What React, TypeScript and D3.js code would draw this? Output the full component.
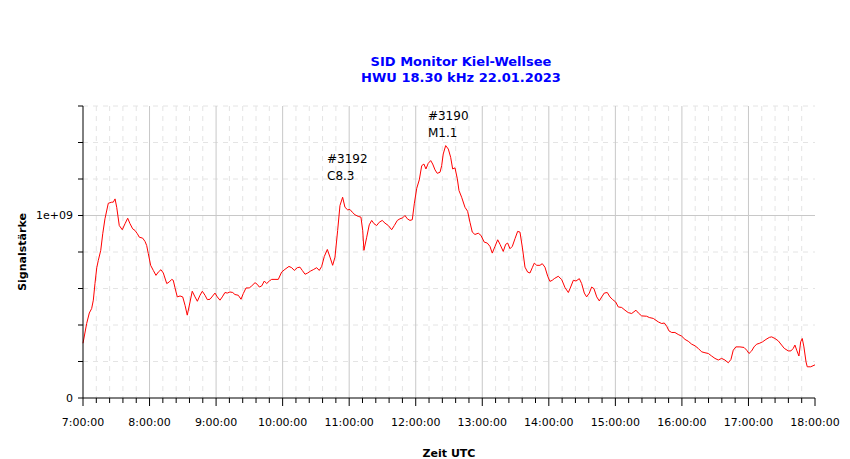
import React from 'react';
import * as d3 from 'd3';

// minutes after 07:00 UTC
const minutes = [
  0, 3.3, 5.7, 7.8, 9.3, 10.8, 12.4, 13.8, 16.0, 17.8, 19.8, 22.8, 25.9, 27.3, 28.9, 30.4, 32.7, 35.4, 37.9, 40.3,
  42.4, 44.8, 46.9, 49.0, 50.8, 53.8, 55.9, 57.4, 58.9, 61.0, 63.4, 65.8, 67.9, 70.3, 72.4, 75.5, 77.8, 80.0, 81.4, 82.9,
  85.0, 87.5, 89.9, 92.0, 94.0, 96.5, 98.5, 101.0, 103.1, 105.5, 107.6, 110.0, 112.1, 114.5, 116.9, 119.0, 121.1, 123.5, 125.6, 128.0,
  130.1, 132.5, 135.0, 137.0, 140.0, 142.5, 144.5, 147.0, 149.9, 152.1, 155.1, 157.1, 159.0, 161.1, 163.5, 165.6, 168.0,
  170.1, 173.1, 176.1, 179.1, 182.1, 185.7, 188.2, 190.5, 193.2, 195.6, 197.7, 200.2, 202.6, 205.3, 207.6, 210.7, 213.0, 215.2,
  217.6, 220.3, 222.7, 225.1, 227.2, 229.6, 231.7, 234.1, 236.2, 238.6, 240.7, 242.8, 245.2, 248.2, 250.6, 252.2, 253.3,
  255.8, 258.1, 260.3, 262.4, 264.8, 267.1, 269.8, 272.3, 275.3, 278.3, 280.7, 283.4, 285.8, 288.2, 290.3, 292.4, 294.8, 296.9,
  298.7, 300.9, 303.2, 305.4, 307.4, 309.2, 311.3, 313.5, 315.3, 317.4, 319.4, 321.9, 323.4, 324.8, 327.0, 329.4, 331.5, 333.3,
  335.4, 337.5, 339.0, 341.4, 344.4, 346.8, 348.9, 351.0, 353.4, 356.4, 358.8, 361.8, 364.5, 366.9, 369.0, 371.5, 373.9, 376.0,
  378.9, 381.1, 382.9, 385.0, 387.1, 389.5, 391.9, 394.0, 396.1, 398.5, 400.9, 403.0, 405.1, 406.9, 409.1, 412.0, 414.1, 416.5,
  419.0, 421.0, 423.1, 424.9, 428.5, 431.6, 434.6, 437.6, 439.7, 442.1, 444.5, 447.5, 449.6, 452.0, 454.1, 456.5, 458.6, 460.7,
  463.2, 465.5, 467.7, 470.0, 472.7, 475.1, 477.6, 480.3, 482.6, 485.7, 488.7, 491.6, 494.7, 498.6, 500.7, 503.7, 508.2, 510.6,
  514.2, 518.7, 521.8, 524.1, 526.3, 528.3, 530.8, 533.7, 536.7, 539.8, 542.8, 545.7, 548.8, 551.8, 554.7, 557.8, 560.8, 563.8,
  566.8, 569.8, 572.8, 575.8, 578.8, 581.8, 584.2, 586.3, 588.7, 592.3, 596.0, 598.4, 600.5, 602.9, 605.0, 607.4, 609.7, 612.8,
  615.8, 618.8, 620.9, 623.9, 626.9, 629.9, 632.3, 635.9, 638.3, 640.4, 641.9, 643.5, 645.5, 647.1, 648.5, 650.0, 651.9, 653.0,
  656.1, 659.1, 660,
];

// Signalstärke in units of 1e9
const signal = [
  0.300, 0.408, 0.466, 0.490, 0.536, 0.627, 0.714, 0.754, 0.809, 0.900, 0.982, 1.067, 1.073, 1.073, 1.091, 1.045, 0.945, 0.922, 0.955, 0.985,
  0.955, 0.927, 0.918, 0.900, 0.881, 0.876, 0.858, 0.836, 0.791, 0.727, 0.699, 0.672, 0.690, 0.703, 0.685, 0.627, 0.636, 0.650, 0.645, 0.605,
  0.554, 0.559, 0.554, 0.508, 0.454, 0.526, 0.585, 0.554, 0.530, 0.563, 0.585, 0.563, 0.539, 0.541, 0.559, 0.575, 0.554, 0.536, 0.554, 0.578,
  0.575, 0.581, 0.578, 0.567, 0.563, 0.541, 0.572, 0.603, 0.603, 0.614, 0.632, 0.623, 0.608, 0.614, 0.641, 0.627, 0.641,
  0.650, 0.650, 0.650, 0.690, 0.705, 0.721, 0.714, 0.699, 0.714, 0.717, 0.699, 0.678, 0.685, 0.696, 0.703, 0.714, 0.699, 0.721,
  0.776, 0.814, 0.772, 0.727, 0.772, 0.918, 1.055, 1.100, 1.045, 1.031, 1.033, 1.018, 1.004, 0.995, 0.991, 0.918, 0.809,
  0.881, 0.949, 0.973, 0.955, 0.945, 0.963, 0.973, 0.958, 0.945, 0.922, 0.945, 0.973, 0.982, 0.987, 1.000, 0.982, 0.973, 0.977,
  1.064, 1.149, 1.195, 1.273, 1.282, 1.255, 1.286, 1.301, 1.282, 1.250, 1.231, 1.237, 1.273, 1.337, 1.383, 1.364, 1.319, 1.255,
  1.261, 1.201, 1.137, 1.100, 1.045, 1.023, 0.963, 0.909, 0.896, 0.903, 0.891, 0.854, 0.849, 0.831, 0.794, 0.831, 0.867, 0.842,
  0.803, 0.842, 0.849, 0.818, 0.831, 0.873, 0.913, 0.909, 0.827, 0.717, 0.690, 0.685, 0.714, 0.739, 0.727, 0.727, 0.736, 0.717,
  0.667, 0.639, 0.645, 0.654, 0.667, 0.649, 0.605, 0.578, 0.608, 0.645, 0.641, 0.654, 0.627, 0.575, 0.554, 0.575, 0.608, 0.599,
  0.554, 0.532, 0.554, 0.575, 0.578, 0.554, 0.539, 0.526, 0.499, 0.496, 0.481, 0.468, 0.463, 0.481, 0.466, 0.450, 0.448, 0.441,
  0.436, 0.417, 0.408, 0.411, 0.393, 0.368, 0.359, 0.359, 0.348, 0.339, 0.321, 0.311, 0.295, 0.286, 0.272, 0.253, 0.248, 0.244,
  0.230, 0.217, 0.208, 0.217, 0.208, 0.193, 0.211, 0.262, 0.280, 0.280, 0.277, 0.262, 0.244, 0.258, 0.280, 0.295, 0.299, 0.308,
  0.321, 0.332, 0.335, 0.326, 0.313, 0.290, 0.272, 0.258, 0.258, 0.272, 0.290, 0.262, 0.230, 0.308, 0.326, 0.280, 0.198, 0.171,
  0.171, 0.179, 0.182,
];

const hourLabels = ['7:00:00', '8:00:00', '9:00:00', '10:00:00', '11:00:00', '12:00:00', '13:00:00', '14:00:00', '15:00:00', '16:00:00', '17:00:00', '18:00:00'];

const flares = [
  { id: '#3192', cls: 'C8.3', minute: 220, value: 1.29 },
  { id: '#3190', cls: 'M1.1', minute: 311, value: 1.525 },
];

const titleLines = ['SID Monitor Kiel-Wellsee', 'HWU 18.30 kHz 22.01.2023'];

const W = 850;
const H = 459;
const margin = { top: 106, right: 35, bottom: 61, left: 83 };
const font = '"DejaVu Sans", Verdana, sans-serif';

const App: React.FC = () => {
  const x = d3.scaleLinear().domain([0, 660]).range([margin.left, W - margin.right]);
  const y = d3.scaleLinear().domain([0, 1.6e9]).range([H - margin.bottom, margin.top]);

  const data = minutes.map((m, i) => ({ m, v: signal[i] * 1e9 }));
  const line = d3.line<{ m: number; v: number }>()
    .x(d => x(d.m))
    .y(d => y(d.v));

  const minorX = d3.range(0, 661, 12);
  const yTicks = d3.range(0, 1.6e9 + 1, 0.2e9);
  const y0 = y(0);
  const x0 = x(0);

  return (
    <svg width={W} height={H} style={{ position: 'absolute', left: 0, top: 0, background: '#fff' }} fontFamily={font}>
      {/* grid */}
      {minorX.filter(m => m % 60 !== 0).map(m => (
        <line key={'gx' + m} x1={x(m)} x2={x(m)} y1={y(1.6e9)} y2={y0} stroke="#e4e4e4" strokeDasharray="5,5" />
      ))}
      {yTicks.filter((_, i) => i % 5 !== 0).map(v => (
        <line key={'gy' + v} x1={x0} x2={x(660)} y1={y(v)} y2={y(v)} stroke="#e4e4e4" strokeDasharray="5,5" />
      ))}
      {d3.range(60, 660, 60).map(m => (
        <line key={'hx' + m} x1={x(m)} x2={x(m)} y1={y(1.6e9)} y2={y0} stroke="#c8c8c8" />
      ))}
      <line x1={x0} x2={x(660)} y1={y(1e9)} y2={y(1e9)} stroke="#c8c8c8" />

      {/* signal */}
      <path d={line(data) || ''} fill="none" stroke="#ff0000" strokeWidth={1} />

      {/* axes */}
      <line x1={x0} x2={x0} y1={y(1.6e9)} y2={y0} stroke="#000" />
      <line x1={x0} x2={x(660)} y1={y0} y2={y0} stroke="#000" />
      {yTicks.map(v => (
        <line key={'ty' + v} x1={x0 - 5} x2={x0} y1={y(v)} y2={y(v)} stroke="#000" />
      ))}
      <text x={x0 - 10} y={y(0)} dy="0.35em" textAnchor="end" fontSize={11}>0</text>
      <text x={x0 - 10} y={y(1e9)} dy="0.35em" textAnchor="end" fontSize={11}>1e+09</text>
      {minorX.map(m => (
        <line key={'tx' + m} x1={x(m)} x2={x(m)} y1={y0} y2={y0 + (m % 60 === 0 ? 8 : 5)} stroke="#000" />
      ))}
      {hourLabels.map((lab, i) => (
        <text key={lab} x={x(i * 60)} y={y0 + 28} textAnchor="middle" fontSize={11}>{lab}</text>
      ))}

      {/* flare notes */}
      {flares.map(f => (
        <text key={f.id} x={x(f.minute)} y={y(f.value * 1e9)} fontSize={12}>
          <tspan x={x(f.minute)}>{f.id}</tspan>
          <tspan x={x(f.minute)} dy={17}>{f.cls}</tspan>
        </text>
      ))}

      {/* titles */}
      {titleLines.map((t, i) => (
        <text key={t} x={461} y={66 + i * 15.5} textAnchor="middle" fontSize={13} fontWeight="bold" fill="#0000ff">{t}</text>
      ))}
      <text x={(x0 + x(660)) / 2} y={457} textAnchor="middle" fontSize={11} fontWeight="bold">Zeit UTC</text>
      <text transform={`translate(26, ${(y(0) + y(1.6e9)) / 2}) rotate(-90)`} textAnchor="middle" fontSize={11} fontWeight="bold">Signalstärke</text>
    </svg>
  );
};

export default App;
